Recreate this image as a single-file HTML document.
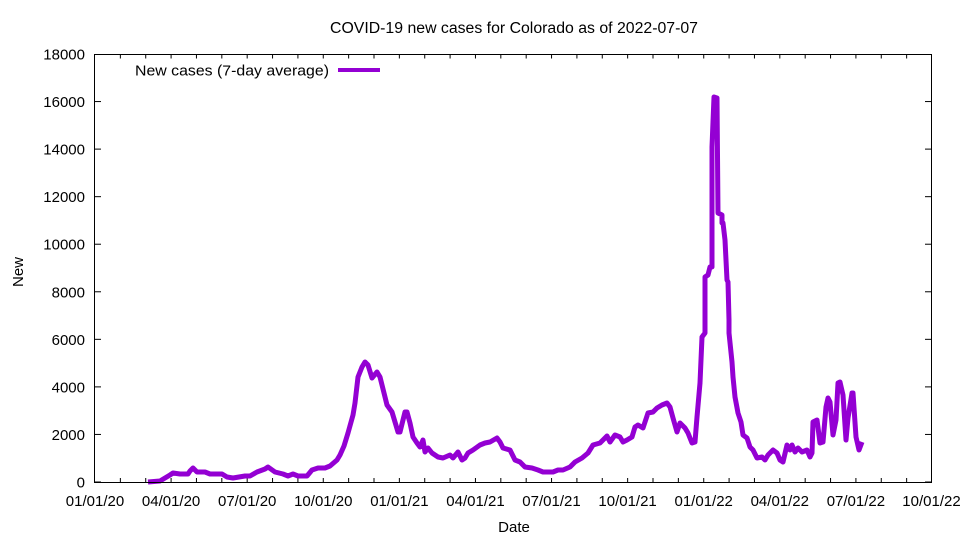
<!DOCTYPE html>
<html>
<head>
<meta charset="utf-8">
<style>
  html, body { margin: 0; padding: 0; background: #fff; }
  svg { display: block; }
  text { font-family: "Liberation Sans", Arial, sans-serif; fill: #000; }
</style>
</head>
<body>
<svg width="960" height="540" viewBox="0 0 960 540" xmlns="http://www.w3.org/2000/svg">
  <rect x="0" y="0" width="960" height="540" fill="#fff"/>

  <!-- Title -->
  <text x="514" y="33" font-size="15.5" text-anchor="middle" textLength="368" lengthAdjust="spacingAndGlyphs">COVID-19 new cases for Colorado as of 2022-07-07</text>

  <!-- Y ticks (left + mirrored right) -->
  <g stroke="#000" stroke-width="1">
    <line x1="94.5" y1="482" x2="101" y2="482"/><line x1="931.5" y1="482" x2="925" y2="482"/>
    <line x1="94.5" y1="434.44" x2="101" y2="434.44"/><line x1="931.5" y1="434.44" x2="925" y2="434.44"/>
    <line x1="94.5" y1="386.89" x2="101" y2="386.89"/><line x1="931.5" y1="386.89" x2="925" y2="386.89"/>
    <line x1="94.5" y1="339.33" x2="101" y2="339.33"/><line x1="931.5" y1="339.33" x2="925" y2="339.33"/>
    <line x1="94.5" y1="291.78" x2="101" y2="291.78"/><line x1="931.5" y1="291.78" x2="925" y2="291.78"/>
    <line x1="94.5" y1="244.22" x2="101" y2="244.22"/><line x1="931.5" y1="244.22" x2="925" y2="244.22"/>
    <line x1="94.5" y1="196.67" x2="101" y2="196.67"/><line x1="931.5" y1="196.67" x2="925" y2="196.67"/>
    <line x1="94.5" y1="149.11" x2="101" y2="149.11"/><line x1="931.5" y1="149.11" x2="925" y2="149.11"/>
    <line x1="94.5" y1="101.56" x2="101" y2="101.56"/><line x1="931.5" y1="101.56" x2="925" y2="101.56"/>
  </g>
  <g font-size="15" text-anchor="end">
    <text x="85" y="487.5">0</text>
    <text x="85" y="440">2000</text>
    <text x="85" y="392.4">4000</text>
    <text x="85" y="344.8">6000</text>
    <text x="85" y="297.3">8000</text>
    <text x="85" y="249.7">10000</text>
    <text x="85" y="202.2">12000</text>
    <text x="85" y="154.6">14000</text>
    <text x="85" y="107.1">16000</text>
    <text x="85" y="59.5">18000</text>
  </g>

  <!-- X ticks (bottom + mirrored top), monthly -->
  <g stroke="#000" stroke-width="1">
    <line x1="120.36" y1="482" x2="120.36" y2="478"/><line x1="120.36" y1="54.5" x2="120.36" y2="58.5"/>
    <line x1="145.73" y1="482" x2="145.73" y2="478"/><line x1="145.73" y1="54.5" x2="145.73" y2="58.5"/>
    <line x1="171.09" y1="482" x2="171.09" y2="478"/><line x1="171.09" y1="54.5" x2="171.09" y2="58.5"/>
    <line x1="196.45" y1="482" x2="196.45" y2="478"/><line x1="196.45" y1="54.5" x2="196.45" y2="58.5"/>
    <line x1="221.82" y1="482" x2="221.82" y2="478"/><line x1="221.82" y1="54.5" x2="221.82" y2="58.5"/>
    <line x1="247.18" y1="482" x2="247.18" y2="478"/><line x1="247.18" y1="54.5" x2="247.18" y2="58.5"/>
    <line x1="272.55" y1="482" x2="272.55" y2="478"/><line x1="272.55" y1="54.5" x2="272.55" y2="58.5"/>
    <line x1="297.91" y1="482" x2="297.91" y2="478"/><line x1="297.91" y1="54.5" x2="297.91" y2="58.5"/>
    <line x1="323.27" y1="482" x2="323.27" y2="478"/><line x1="323.27" y1="54.5" x2="323.27" y2="58.5"/>
    <line x1="348.64" y1="482" x2="348.64" y2="478"/><line x1="348.64" y1="54.5" x2="348.64" y2="58.5"/>
    <line x1="374.00" y1="482" x2="374.00" y2="478"/><line x1="374.00" y1="54.5" x2="374.00" y2="58.5"/>
    <line x1="399.36" y1="482" x2="399.36" y2="478"/><line x1="399.36" y1="54.5" x2="399.36" y2="58.5"/>
    <line x1="424.73" y1="482" x2="424.73" y2="478"/><line x1="424.73" y1="54.5" x2="424.73" y2="58.5"/>
    <line x1="450.09" y1="482" x2="450.09" y2="478"/><line x1="450.09" y1="54.5" x2="450.09" y2="58.5"/>
    <line x1="475.45" y1="482" x2="475.45" y2="478"/><line x1="475.45" y1="54.5" x2="475.45" y2="58.5"/>
    <line x1="500.82" y1="482" x2="500.82" y2="478"/><line x1="500.82" y1="54.5" x2="500.82" y2="58.5"/>
    <line x1="526.18" y1="482" x2="526.18" y2="478"/><line x1="526.18" y1="54.5" x2="526.18" y2="58.5"/>
    <line x1="551.55" y1="482" x2="551.55" y2="478"/><line x1="551.55" y1="54.5" x2="551.55" y2="58.5"/>
    <line x1="576.91" y1="482" x2="576.91" y2="478"/><line x1="576.91" y1="54.5" x2="576.91" y2="58.5"/>
    <line x1="602.27" y1="482" x2="602.27" y2="478"/><line x1="602.27" y1="54.5" x2="602.27" y2="58.5"/>
    <line x1="627.64" y1="482" x2="627.64" y2="478"/><line x1="627.64" y1="54.5" x2="627.64" y2="58.5"/>
    <line x1="653.00" y1="482" x2="653.00" y2="478"/><line x1="653.00" y1="54.5" x2="653.00" y2="58.5"/>
    <line x1="678.36" y1="482" x2="678.36" y2="478"/><line x1="678.36" y1="54.5" x2="678.36" y2="58.5"/>
    <line x1="703.73" y1="482" x2="703.73" y2="478"/><line x1="703.73" y1="54.5" x2="703.73" y2="58.5"/>
    <line x1="729.09" y1="482" x2="729.09" y2="478"/><line x1="729.09" y1="54.5" x2="729.09" y2="58.5"/>
    <line x1="754.45" y1="482" x2="754.45" y2="478"/><line x1="754.45" y1="54.5" x2="754.45" y2="58.5"/>
    <line x1="779.82" y1="482" x2="779.82" y2="478"/><line x1="779.82" y1="54.5" x2="779.82" y2="58.5"/>
    <line x1="805.18" y1="482" x2="805.18" y2="478"/><line x1="805.18" y1="54.5" x2="805.18" y2="58.5"/>
    <line x1="830.55" y1="482" x2="830.55" y2="478"/><line x1="830.55" y1="54.5" x2="830.55" y2="58.5"/>
    <line x1="855.91" y1="482" x2="855.91" y2="478"/><line x1="855.91" y1="54.5" x2="855.91" y2="58.5"/>
    <line x1="881.27" y1="482" x2="881.27" y2="478"/><line x1="881.27" y1="54.5" x2="881.27" y2="58.5"/>
    <line x1="906.64" y1="482" x2="906.64" y2="478"/><line x1="906.64" y1="54.5" x2="906.64" y2="58.5"/>
  </g>
  <g font-size="15" text-anchor="middle">
    <text x="95" y="506">01/01/20</text>
    <text x="171.1" y="506">04/01/20</text>
    <text x="247.2" y="506">07/01/20</text>
    <text x="323.3" y="506">10/01/20</text>
    <text x="399.4" y="506">01/01/21</text>
    <text x="475.5" y="506">04/01/21</text>
    <text x="551.5" y="506">07/01/21</text>
    <text x="627.6" y="506">10/01/21</text>
    <text x="703.7" y="506">01/01/22</text>
    <text x="779.8" y="506">04/01/22</text>
    <text x="855.9" y="506">07/01/22</text>
    <text x="931.5" y="506">10/01/22</text>
  </g>

  <!-- Axis labels -->
  <text x="514" y="532" font-size="15" text-anchor="middle">Date</text>
  <text x="0" y="0" font-size="15" text-anchor="middle" transform="translate(23,272) rotate(-90)">New</text>

  <!-- Data series -->
  <polyline fill="none" stroke="#9400d3" stroke-width="5" stroke-linejoin="round" stroke-linecap="butt"
    points="148,482 160,481 165,478 170,475 173,473 180,474 188,474 190,471 193,468 197,472 205,472 210,474 222,474 227,477 233,478 245,476 250,476 257,472 265,469 268,467 275,472 283,474 288,476 293,474 298,476 307,476 312,470 318,468 325,468 330,466 337,460 340,455 344,446 348,433 353,415 355,403 358,377 362,367 365,362 368,365 372,378 377,372 380,377 387,405 392,412 398,432 400,432 405,412 407,412 410,423 413,437 417,443 420,447 423,440 425,452 428,448 432,453 438,457 443,458 450,455 453,458 458,452 462,460 465,458 468,453 473,450 480,445 485,443 490,442 497,438 500,442 503,448 510,450 515,460 520,462 525,467 532,468 538,470 543,472 553,472 558,470 563,470 570,467 575,462 582,458 588,453 593,445 600,443 607,436 610,442 615,435 620,437 623,442 627,440 632,437 635,427 638,425 643,428 648,413 653,412 657,408 662,405 667,403 670,407 673,418 677,432 680,423 685,428 688,433 692,443 695,442 697,417 700,383 702,337 705,333 705,320 705,277 708,275 710,267 712,267 712,147 714,97 717,98 718,213 722,215 722,223 723,223 725,240 727,280 728,282 729,320 729,333 732,362 733,377 735,397 738,413 741,422 743,435 747,438 750,447 753,450 757,458 762,457 765,460 768,455 773,450 777,453 780,460 783,462 787,445 790,450 792,445 795,452 798,448 802,452 807,450 810,457 812,453 813,422 817,420 820,443 823,442 826,407 828,398 830,402 833,435 836,420 838,383 840,382 843,395 846,440 848,418 852,393 853,393 856,437 859,450 862,442"/>

  <!-- Border -->
  <rect x="94.5" y="54.5" width="837" height="428" fill="none" stroke="#000" stroke-width="1"/>

  <!-- Legend -->
  <text x="329" y="75.5" font-size="15" text-anchor="end" textLength="194" lengthAdjust="spacingAndGlyphs">New cases (7-day average)</text>
  <line x1="338" y1="70" x2="380" y2="70" stroke="#9400d3" stroke-width="4"/>
</svg>
</body>
</html>
